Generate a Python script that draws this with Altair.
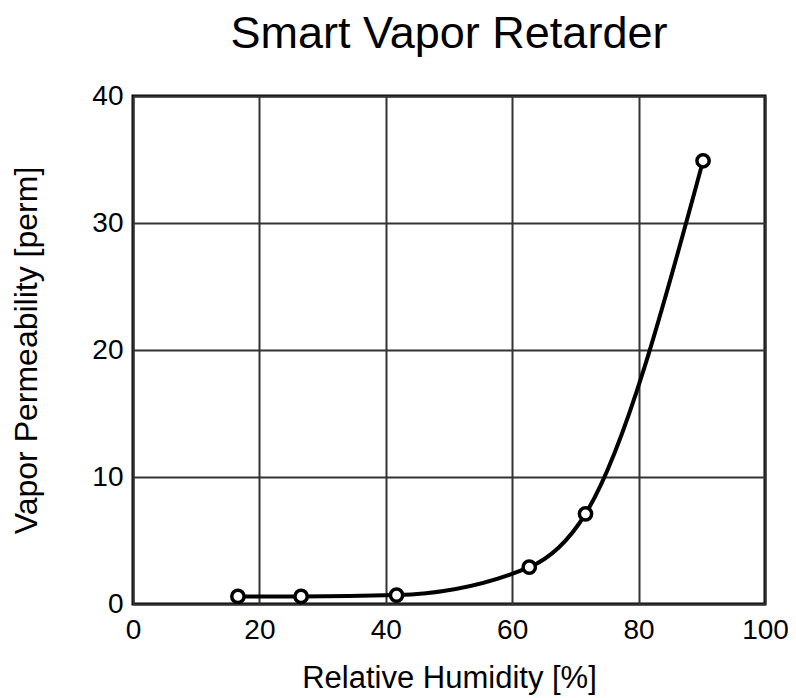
import altair as alt
import pandas as pd

humidity = [16.6, 26.6, 41.7, 62.7, 71.6, 90.2]
permeability = [0.6, 0.6, 0.7, 2.9, 7.1, 34.9]

df = pd.DataFrame({"rh": humidity, "perm": permeability})

FONT = "Liberation Sans"

x = alt.X("rh:Q", scale=alt.Scale(domain=[0, 100], nice=False),
          axis=alt.Axis(title="Relative Humidity [%]", values=[0, 20, 40, 60, 80, 100],
                        grid=True, gridColor="#333333", gridWidth=2, domain=False, ticks=False,
                        labelFontSize=28, titleFontSize=31, labelFont=FONT, titleFont=FONT,
                        labelColor="black", titleColor="black", titleFontWeight="normal",
                        labelPadding=12, titlePadding=19, labelFlush=False))
y = alt.Y("perm:Q", scale=alt.Scale(domain=[0, 40], nice=False),
          axis=alt.Axis(title="Vapor Permeability [perm]", values=[0, 10, 20, 30, 40],
                        grid=True, gridColor="#333333", gridWidth=2, domain=False, ticks=False,
                        labelFontSize=28, titleFontSize=32, labelFont=FONT, titleFont=FONT,
                        labelColor="black", titleColor="black", titleFontWeight="normal",
                        labelPadding=10, titlePadding=48, labelFlush=False))

line = alt.Chart(df).mark_line(color="black", strokeWidth=4, interpolate="monotone").encode(x=x, y=y)
pts = alt.Chart(df).mark_point(shape="circle", size=150, filled=False, fill="white", fillOpacity=1,
                               stroke="black", strokeWidth=3.5, opacity=1).encode(x=x, y=y)

chart = (line + pts).properties(
    width=632, height=508,
    title=alt.TitleParams("Smart Vapor Retarder", fontSize=45, font=FONT, fontWeight="normal",
                          color="black", anchor="middle", offset=25),
    autosize=alt.AutoSizeParams(type="none"),
    padding={"left": 125, "top": 88, "right": 23, "bottom": 94},
).configure_view(stroke="black", strokeWidth=3)

chart.save("out.html", embed_options={"renderer": "svg", "actions": False})
